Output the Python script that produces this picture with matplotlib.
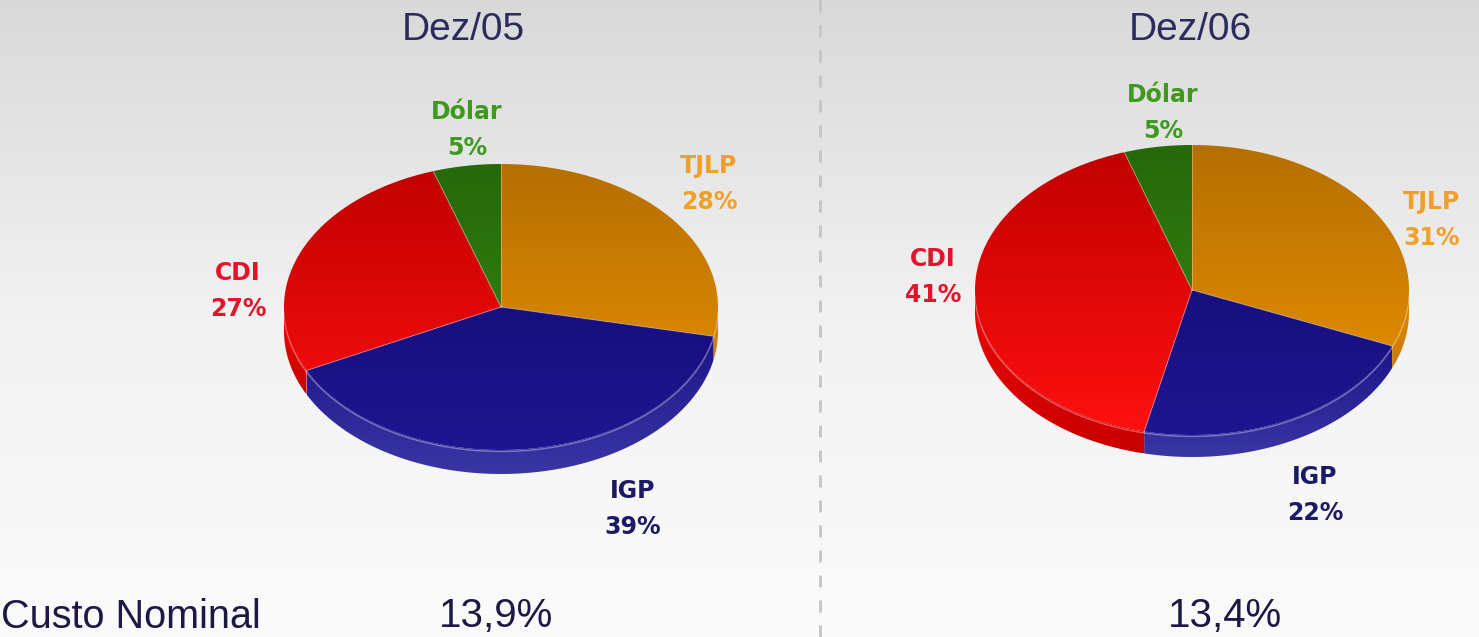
"""Composição da dívida por indexador: pizzas Dez/05 e Dez/06 com custo nominal."""

import numpy as np
import matplotlib.pyplot as plt
from matplotlib.colors import LinearSegmentedColormap
from matplotlib.patches import Polygon

W, H = 1479, 637

# dados
categories = ["TJLP", "IGP", "CDI", "Dólar"]
periods = ["Dez/05", "Dez/06"]
shares_dez05 = [28, 39, 27, 5]
shares_dez06 = [31, 22, 41, 5]
custo_nominal = ["13,9%", "13,4%"]
custo_label = "Custo Nominal"

# cores: (topo, base) do gradiente de cada fatia
TOP_COLORS = {
    "TJLP": ("#b56f00", "#ee9400"),
    "IGP": ("#10086a", "#1e1690"),
    "CDI": ("#c00000", "#ff1010"),
    "Dólar": ("#26680a", "#3a8c16"),
}
SIDE_COLORS = {
    "TJLP": ("#e48c00", "#c87a00"),
    "IGP": ("#1c1488", "#3a36a4"),
    "CDI": ("#f00808", "#c80000"),
    "Dólar": ("#2e7a0e", "#246008"),
}
LABEL_COLORS = {
    "TJLP": "#f0a028",
    "IGP": "#1c1a62",
    "CDI": "#e2142a",
    "Dólar": "#3e9a1c",
}

# geometria das pizzas (pixels da figura)
PIE_GEO = [
    dict(cx=501, cy=307, rx=217, ry=143, depth=24),
    dict(cx=1192, cy=290, rx=217, ry=145, depth=22),
]
TITLE_X = [463, 1190]
VALUE_X = [496, 1225]
# centro da linha com o nome; a porcentagem fica logo abaixo
LABEL_POS = [
    {"TJLP": (709, 166), "IGP": (633, 491), "CDI": (238, 273), "Dólar": (467, 112)},
    {"TJLP": (1432, 202), "IGP": (1315, 477), "CDI": (933, 259), "Dólar": (1163, 95)},
]
PCT_OFFSET = 36


def gradient_fill(ax, xy, c_top, c_bottom, y0, y1, zorder):
    """Preenche um polígono com gradiente vertical (y0 = topo visual)."""
    patch = Polygon(xy, closed=True, facecolor="none", edgecolor="none", zorder=zorder)
    ax.add_patch(patch)
    cmap = LinearSegmentedColormap.from_list("grad", [c_top, c_bottom])
    grad = np.linspace(0, 1, 256).reshape(-1, 1)
    im = ax.imshow(grad, cmap=cmap, extent=[xy[:, 0].min(), xy[:, 0].max(), y1, y0],
                   aspect="auto", zorder=zorder, interpolation="bilinear")
    im.set_clip_path(patch)


def draw_pie(ax, values, geo):
    vals = np.asarray(values, dtype=float)
    edges = np.concatenate([[0.0], np.cumsum(vals / vals.sum())])
    t_edges = np.deg2rad(90 - 360 * edges)  # sentido horário a partir das 12h
    cx, cy, rx, ry, d = geo["cx"], geo["cy"], geo["rx"], geo["ry"], geo["depth"]

    def rim(t, dy=0.0):
        return np.column_stack([cx + rx * np.cos(t), cy - ry * np.sin(t) + dy])

    # laterais (só a metade da frente aparece)
    for i, cat in enumerate(categories):
        hi, lo = t_edges[i], t_edges[i + 1]
        a, b = max(lo, -np.pi), min(hi, 0.0)
        if a >= b:
            continue
        t = np.linspace(a, b, 80)
        top = rim(t)
        bottom = rim(t[::-1], d)
        xy = np.vstack([top, bottom])
        c1, c2 = SIDE_COLORS[cat]
        gradient_fill(ax, xy, c1, c2, xy[:, 1].min(), xy[:, 1].max(), zorder=2)
        ax.plot(top[:, 0], top[:, 1] + 1.5, color="white", alpha=0.35, lw=1.0, zorder=3)

    # face superior
    for i, cat in enumerate(categories):
        t = np.linspace(t_edges[i], t_edges[i + 1], 120)
        xy = np.vstack([[cx, cy], rim(t)])
        c1, c2 = TOP_COLORS[cat]
        gradient_fill(ax, xy, c1, c2, cy - ry, cy + ry, zorder=4)

    # linhas claras entre as fatias
    for t in t_edges[:-1]:
        p = rim(np.array([t]))[0]
        ax.plot([cx, p[0]], [cy, p[1]], color="white", alpha=0.3, lw=0.8, zorder=5)


fig = plt.figure(figsize=(W / 100, H / 100), dpi=100)
ax = fig.add_axes([0, 0, 1, 1])

# fundo em degradê cinza claro (uma linha de cor por pixel, sem reamostragem)
bg = LinearSegmentedColormap.from_list("bg", ["#d9d9d9", "#f2f2f2", "#fbfbfb"])
ax.imshow(np.linspace(0, 1, H).reshape(-1, 1), cmap=bg, extent=[0, W, H, 0],
          aspect="auto", zorder=0, interpolation="nearest")

# separador tracejado
ax.plot([820, 820], [0, H], color="#c4c4c4", lw=2, linestyle=(0, (4.3, 4.7)), zorder=1)

for k, (period, values) in enumerate(zip(periods, [shares_dez05, shares_dez06])):
    draw_pie(ax, values, PIE_GEO[k])
    ax.text(TITLE_X[k], 30, period, ha="center", va="center", fontsize=28,
            family="Liberation Sans", color="#2b2b5e", zorder=6)
    for cat, v in zip(categories, values):
        x, y = LABEL_POS[k][cat]
        for dy, s in ((0, cat), (PCT_OFFSET, f"{v}%")):
            ax.text(x, y + dy, s, ha="center", va="center", fontsize=17,
                    family="DejaVu Sans", weight="bold", color=LABEL_COLORS[cat], zorder=6)
    ax.text(VALUE_X[k], 616, custo_nominal[k], ha="center", va="center", fontsize=29,
            family="Liberation Sans", color="#1c1a45", zorder=6)

ax.text(1, 617, custo_label, ha="left", va="center", fontsize=28.5,
        family="Liberation Sans", color="#1c1a45", zorder=6)

ax.set_xlim(0, W)
ax.set_ylim(H, 0)
ax.axis("off")
fig.savefig("out.png", dpi=100)
